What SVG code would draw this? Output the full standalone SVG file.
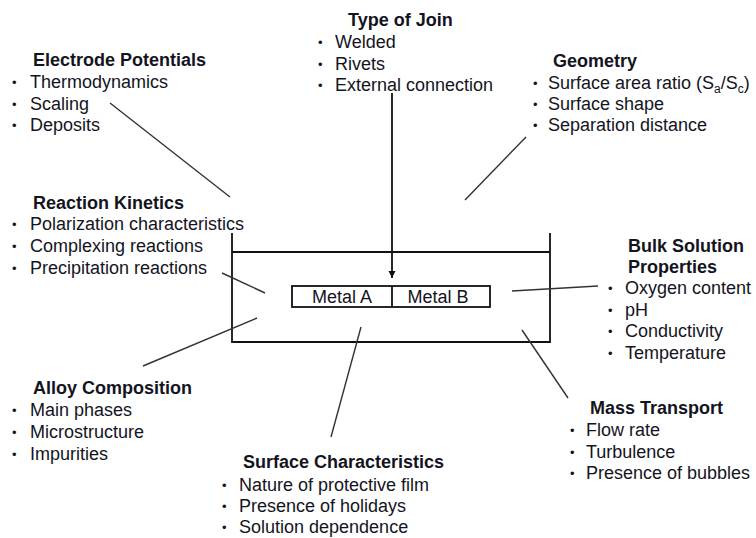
<svg xmlns="http://www.w3.org/2000/svg" width="756" height="538" viewBox="0 0 756 538">
<style>
text{font-family:"Liberation Sans",Arial,sans-serif;font-size:18px;fill:#14141e}
.t{font-weight:bold}
.b{font-size:13px}
.c{stroke:#333;stroke-width:1.4;fill:none}
.k{stroke:#111;stroke-width:1.8;fill:none}
</style>
<defs>
<marker id="ah" viewBox="0 0 10 10" refX="10" refY="5" markerWidth="7" markerHeight="9" markerUnits="userSpaceOnUse" orient="auto">
<path d="M0,0 L10,5 L0,10 z" fill="#111"/>
</marker>
</defs>
<rect width="756" height="538" fill="#fff"/>

<g id="container">
<path class="k" d="M232,233 V342 H550 V233"/>
<line class="k" x1="232" y1="252" x2="550" y2="252"/>
</g>

<g id="metals">
<rect class="k" x="292" y="286" width="198" height="21"/>
<line class="k" x1="392" y1="286" x2="392" y2="307"/>
<text x="342" y="303" text-anchor="middle">Metal A</text>
<text x="438" y="303" text-anchor="middle">Metal B</text>
</g>

<g id="connectors">
<line class="k" x1="392" y1="93" x2="392" y2="278" marker-end="url(#ah)"/>
<line class="c" x1="110" y1="103" x2="230" y2="197"/>
<line class="c" x1="526" y1="137" x2="465" y2="200"/>
<line class="c" x1="222" y1="273" x2="265" y2="293"/>
<line class="c" x1="257" y1="318" x2="143" y2="366"/>
<line class="c" x1="361" y1="327" x2="331" y2="437"/>
<line class="c" x1="512" y1="291" x2="598" y2="286"/>
<line class="c" x1="522" y1="330" x2="568" y2="398"/>
</g>

<g id="type-of-join">
<text class="t" x="348" y="26">Type of Join</text>
<text class="b" x="318" y="47">•</text><text x="335" y="48">Welded</text>
<text class="b" x="318" y="69">•</text><text x="335" y="70">Rivets</text>
<text class="b" x="318" y="90">•</text><text x="335" y="91">External connection</text>
</g>

<g id="electrode-potentials">
<text class="t" x="33" y="66">Electrode Potentials</text>
<text class="b" x="12" y="87">•</text><text x="30" y="88">Thermodynamics</text>
<text class="b" x="12" y="109">•</text><text x="30" y="110">Scaling</text>
<text class="b" x="12" y="130">•</text><text x="30" y="131">Deposits</text>
</g>

<g id="geometry">
<text class="t" x="553" y="67">Geometry</text>
<text class="b" x="533" y="88">•</text><text x="548" y="89">Surface area ratio (S<tspan font-size="12" dy="4">a</tspan><tspan dy="-4">/S</tspan><tspan font-size="12" dy="4">c</tspan><tspan dy="-4">)</tspan></text>
<text class="b" x="533" y="109">•</text><text x="548" y="110">Surface shape</text>
<text class="b" x="533" y="130">•</text><text x="548" y="131">Separation distance</text>
</g>

<g id="reaction-kinetics">
<text class="t" x="33" y="209">Reaction Kinetics</text>
<text class="b" x="12" y="229">•</text><text x="30" y="230">Polarization characteristics</text>
<text class="b" x="12" y="251">•</text><text x="30" y="252">Complexing reactions</text>
<text class="b" x="12" y="273">•</text><text x="30" y="274">Precipitation reactions</text>
</g>

<g id="bulk-solution">
<text class="t" x="628" y="252">Bulk Solution</text>
<text class="t" x="628" y="273">Properties</text>
<text class="b" x="608" y="293">•</text><text x="625" y="294">Oxygen content</text>
<text class="b" x="608" y="315">•</text><text x="625" y="316">pH</text>
<text class="b" x="608" y="336">•</text><text x="625" y="337">Conductivity</text>
<text class="b" x="608" y="358">•</text><text x="625" y="359">Temperature</text>
</g>

<g id="alloy-composition">
<text class="t" x="33" y="394">Alloy Composition</text>
<text class="b" x="12" y="415">•</text><text x="30" y="416">Main phases</text>
<text class="b" x="12" y="437">•</text><text x="30" y="438">Microstructure</text>
<text class="b" x="12" y="459">•</text><text x="30" y="460">Impurities</text>
</g>

<g id="mass-transport">
<text class="t" x="590" y="414">Mass Transport</text>
<text class="b" x="570" y="435">•</text><text x="586" y="436">Flow rate</text>
<text class="b" x="570" y="457">•</text><text x="586" y="458">Turbulence</text>
<text class="b" x="570" y="478">•</text><text x="586" y="479">Presence of bubbles</text>
</g>

<g id="surface-characteristics">
<text class="t" x="243" y="468">Surface Characteristics</text>
<text class="b" x="222" y="490">•</text><text x="239" y="491">Nature of protective film</text>
<text class="b" x="222" y="511">•</text><text x="239" y="512">Presence of holidays</text>
<text class="b" x="222" y="532">•</text><text x="239" y="533">Solution dependence</text>
</g>
</svg>
